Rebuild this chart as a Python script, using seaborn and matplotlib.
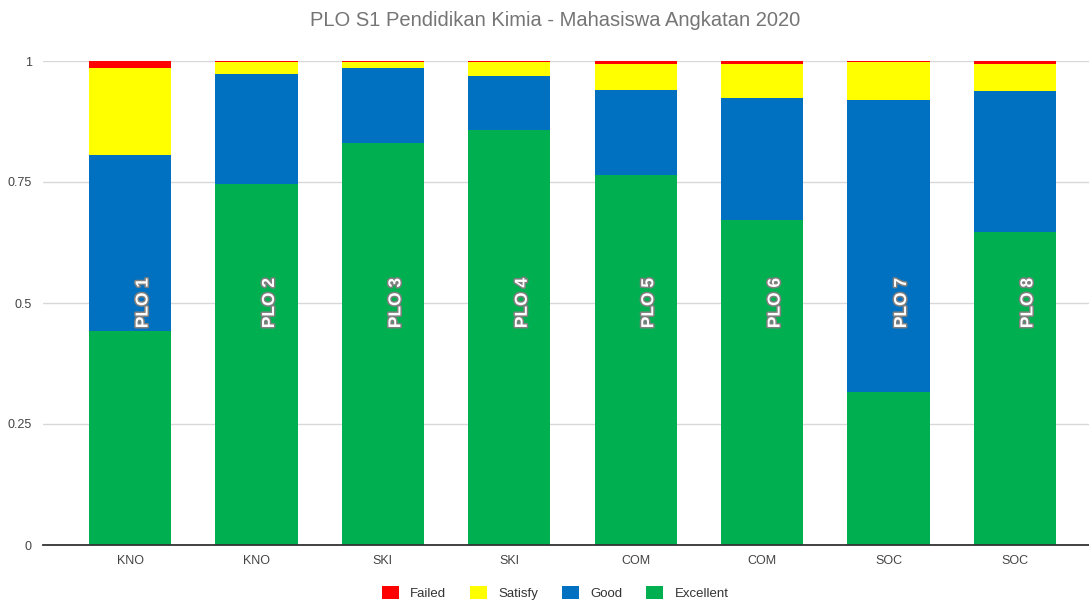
import matplotlib
matplotlib.use("Agg")
import matplotlib.pyplot as plt
import matplotlib.patheffects as pe
from matplotlib.transforms import offset_copy
from matplotlib.patches import Patch
import seaborn as sns
import pandas as pd
import numpy as np

plo = ["PLO 1", "PLO 2", "PLO 3", "PLO 4", "PLO 5", "PLO 6", "PLO 7", "PLO 8"]
groups = ["KNO", "KNO", "SKI", "SKI", "COM", "COM", "SOC", "SOC"]
excellent = [0.442, 0.746, 0.830, 0.857, 0.764, 0.671, 0.317, 0.647]
good = [0.364, 0.227, 0.156, 0.113, 0.177, 0.252, 0.602, 0.291]
satisfy = [0.180, 0.025, 0.011, 0.027, 0.053, 0.071, 0.078, 0.056]
failed = [0.014, 0.002, 0.003, 0.003, 0.006, 0.006, 0.003, 0.006]
yticks = [0, 0.25, 0.5, 0.75, 1]
ytick_labels = ["0", "0.25", "0.5", "0.75", "1"]
series = ["Failed", "Satisfy", "Good", "Excellent"]
colors = {"Failed": "#FF0000", "Satisfy": "#FFFF00", "Good": "#0070C0", "Excellent": "#00B050"}

df = pd.DataFrame({"plo": plo, "group": groups, "Excellent": excellent,
                   "Good": good, "Satisfy": satisfy, "Failed": failed})
df["c_exc"] = df["Excellent"]
df["c_good"] = df["c_exc"] + df["Good"]
df["c_sat"] = df["c_good"] + df["Satisfy"]
df["c_fail"] = df["c_sat"] + df["Failed"]

sns.set_theme(style="white")
plt.rcParams["font.family"] = ["Liberation Sans", "DejaVu Sans"]

fig = plt.figure(figsize=(10.89, 6.01), dpi=100)
ax = fig.add_axes([43 / 1089, 1 - 545 / 601, 1 - 43 / 1089, (545 - 61) / 601])

width = 82 / 126.3
for col, name in [("c_fail", "Failed"), ("c_sat", "Satisfy"), ("c_good", "Good"), ("c_exc", "Excellent")]:
    sns.barplot(data=df, x="plo", y=col, order=plo, color=colors[name], saturation=1,
                width=width, ax=ax, edgecolor="none", linewidth=0, zorder=3)

ax.set_xlim(-87 / 126.3, 7 + 74 / 126.3)
ax.set_ylim(0, 1)
ax.set_yticks(yticks)
ax.set_yticklabels(ytick_labels)
ax.set_xticks(range(len(plo)))
ax.set_xticklabels(groups)
ax.set_xlabel("")
ax.set_ylabel("")
ax.tick_params(axis="both", length=0, labelsize=9, colors="#444444")
ax.tick_params(axis="y", pad=8)
ax.tick_params(axis="x", pad=7)
ax.yaxis.grid(True, color="#d9d9d9", linewidth=1, zorder=0)
ax.set_axisbelow(True)
for s in ["top", "right", "left"]:
    ax.spines[s].set_visible(False)
ax.spines["bottom"].set_color("#333333")
ax.spines["bottom"].set_linewidth(1.3)
ax.spines["bottom"].set_zorder(5)

trans = offset_copy(ax.transData, fig=fig, x=13, y=0, units="dots")
for i, lbl in enumerate(plo):
    ax.text(i, 0.5, lbl, transform=trans, rotation=90, ha="center", va="center",
            fontsize=12.5, fontweight="bold", color="white", zorder=6,
            path_effects=[pe.withStroke(linewidth=2.2, foreground="#7f7f7f")])

fig.text(555 / 1089, 1 - 20 / 601, "PLO S1 Pendidikan Kimia - Mahasiswa Angkatan 2020",
         ha="center", va="center", fontsize=14.5, color="#757575")

handles = [Patch(facecolor=colors[s], edgecolor="none", label=s) for s in series]
fig.legend(handles=handles, loc="center", bbox_to_anchor=(555 / 1089, 1 - 593 / 601),
           ncol=4, frameon=False, fontsize=9.5, handlelength=1.3, handleheight=1.1,
           columnspacing=1.8, handletextpad=0.85, labelcolor="#333333")

fig.savefig("out.png", dpi=100)
